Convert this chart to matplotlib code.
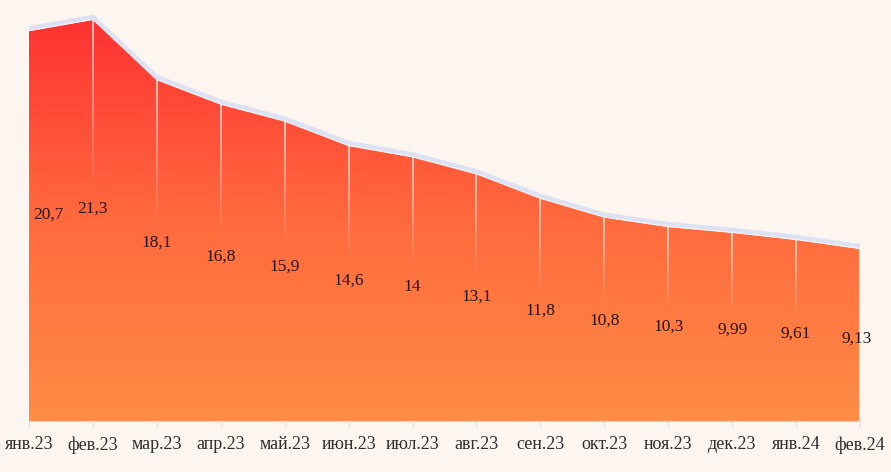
import numpy as np
import matplotlib.pyplot as plt
from matplotlib.collections import LineCollection
from matplotlib.colors import LinearSegmentedColormap

months = ["янв.23", "фев.23", "мар.23", "апр.23", "май.23", "июн.23", "июл.23",
          "авг.23", "сен.23", "окт.23", "ноя.23", "дек.23", "янв.24", "фев.24"]
values = [20.7, 21.3, 18.1, 16.8, 15.9, 14.6, 14.0, 13.1, 11.8, 10.8, 10.3, 9.99, 9.61, 9.13]
labels = ["20,7", "21,3", "18,1", "16,8", "15,9", "14,6", "14", "13,1", "11,8",
          "10,8", "10,3", "9,99", "9,61", "9,13"]

bg = "#fdf6f0"
plt.rcParams['font.family'] = ['Liberation Serif', 'DejaVu Serif']

fig = plt.figure(figsize=(8.91, 4.72), dpi=100, facecolor=bg)
ax = fig.add_axes([29 / 891, 51 / 472, 831 / 891, 421 / 472])
ax.set_facecolor(bg)

x = np.arange(len(values))
ymax = 22.36
ax.set_xlim(0, len(values) - 1)
ax.set_ylim(0, ymax)

# gradient fill clipped to the area
cmap = LinearSegmentedColormap.from_list("g", ["#ff8c45", "#ff6a3e", "#ff3232"])
grad = np.linspace(0, 1, 256).reshape(-1, 1)
img = ax.imshow(grad, cmap=cmap, origin="lower", aspect="auto",
                extent=[0, len(values) - 1, 0, max(values)], zorder=1)
poly = ax.fill_between(x, values, 0, color="none", zorder=0)
img.set_clip_path(poly.get_paths()[0], transform=ax.transData)

# outline along the top
ax.plot(x, np.array(values) + 0.05, color="#f4f2f6", lw=1.2, zorder=3)
ax.plot(x, np.array(values) + 0.17, color="#dde2f3", lw=3.0, zorder=3,
        solid_capstyle="butt")
ax.plot([x[-1], x[-1]], [0, values[-1]], color="#e3e3f0", lw=1.5, zorder=3)

# fading vertical lines
lab_y = [0.57 * v - 0.85 for v in values]
for i in range(1, len(values) - 1):
    ys = np.linspace(values[i], lab_y[i] + 0.8, 30)
    segs = [[(x[i], ys[k]), (x[i], ys[k + 1])] for k in range(len(ys) - 1)]
    alphas = np.linspace(0.8, 0.0, len(segs))
    cols = [(1, 0.94, 0.92, a) for a in alphas]
    ax.add_collection(LineCollection(segs, colors=cols, lw=1.3, zorder=2))

for i, (v, t) in enumerate(zip(values, labels)):
    ha = "center"
    xx = x[i]
    if i == 0:
        ha = "left"
        xx = x[i] + 0.06
    elif i == len(values) - 1:
        xx = x[i] - 0.05
    ax.text(xx, lab_y[i], t, ha=ha, va="center", fontsize=12.5, color="#241515", zorder=4)

for s in ["top", "right", "left"]:
    ax.spines[s].set_visible(False)
ax.spines["bottom"].set_color("#dcdcdc")
ax.set_yticks([])
ax.set_xticks(x)
ax.set_xticklabels(months, fontsize=13, color="#2e2e2e")
ax.tick_params(axis="x", length=5, color="#e0e0e0", pad=6)

fig.savefig("out.png", dpi=100, facecolor=bg)
